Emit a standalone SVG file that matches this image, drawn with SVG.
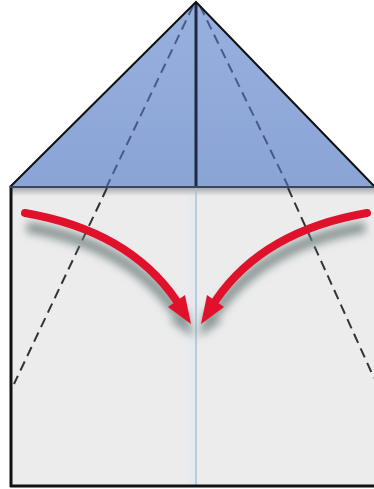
<svg xmlns="http://www.w3.org/2000/svg" width="374" height="489" viewBox="0 0 374 489">
  <defs>
    <linearGradient id="edgeShade" x1="0" y1="0" x2="0" y2="1">
      <stop offset="0" stop-color="#a9abb0"/>
      <stop offset="1" stop-color="#ececec"/>
    </linearGradient>
    <linearGradient id="flapFill" x1="0" y1="0" x2="0" y2="1">
      <stop offset="0" stop-color="#98b0de"/>
      <stop offset="1" stop-color="#8aa4d6"/>
    </linearGradient>
    <filter id="blur" x="-20%" y="-20%" width="140%" height="160%">
      <feGaussianBlur stdDeviation="4.5"/>
    </filter>
    <g id="arrow">
      <g class="shadow" transform="translate(2,14)" filter="url(#blur)">
        <path d="M25,213 C95,225 145,255 176,300" fill="none" stroke="#6f807e" stroke-width="11" opacity="0.8"/>
        <polygon points="191,323 185,295 168,307" fill="#6f807e" opacity="0.8"/>
      </g>
      <path d="M25,213 C95,225 145,255 176,300" fill="none" stroke="#e0112b" stroke-width="8" stroke-linecap="round"/>
      <polygon points="191,324 185,295 168,307" fill="#e0112b"/>
    </g>
    <style>
      .dash-in { stroke: #475a88; stroke-width: 2; stroke-dasharray: 10 6; fill: none; }
      .dash-out { stroke: #333; stroke-width: 2; stroke-dasharray: 10 6; fill: none; }
      .border { stroke: #111; fill: none; }
    </style>
  </defs>
  <rect width="374" height="489" fill="#ffffff"/>
  <g id="paper">
    <rect x="10" y="186" width="364" height="301" fill="#ececec"/>
    <rect x="10" y="188" width="364" height="8" fill="url(#edgeShade)"/>
    <rect x="188" y="196" width="7" height="290" fill="#e6ebf0" opacity="0.8"/>
    <line x1="196" y1="188" x2="196" y2="486" stroke="#a8c2da" stroke-width="1.5"/>
    <line class="dash-out" x1="107" y1="188" x2="14" y2="384"/>
    <line class="dash-out" x1="288" y1="188" x2="374" y2="378"/>
    <line class="border" x1="11" y1="186" x2="11" y2="487" stroke-width="3"/>
    <line class="border" x1="10" y1="486" x2="374" y2="486" stroke-width="3"/>
  </g>
  <g id="flap">
    <polygon points="196,2 10,186 374,186" fill="url(#flapFill)"/>
    <line class="dash-in" x1="193" y1="6" x2="107" y2="186"/>
    <line class="dash-in" x1="200" y1="6" x2="288" y2="186"/>
    <line x1="196" y1="3" x2="196" y2="188" stroke="#1d2a40" stroke-width="3"/>
    <polyline points="10,187 196,2 374,186" fill="none" stroke="#111" stroke-width="2"/>
    <line x1="10" y1="187" x2="374" y2="187" stroke="#3b475c" stroke-width="2"/>
  </g>
  <g id="connectors">
    <use id="arrow-left" href="#arrow"/>
    <use id="arrow-right" href="#arrow" transform="translate(392,0) scale(-1,1)"/>
  </g>
</svg>
